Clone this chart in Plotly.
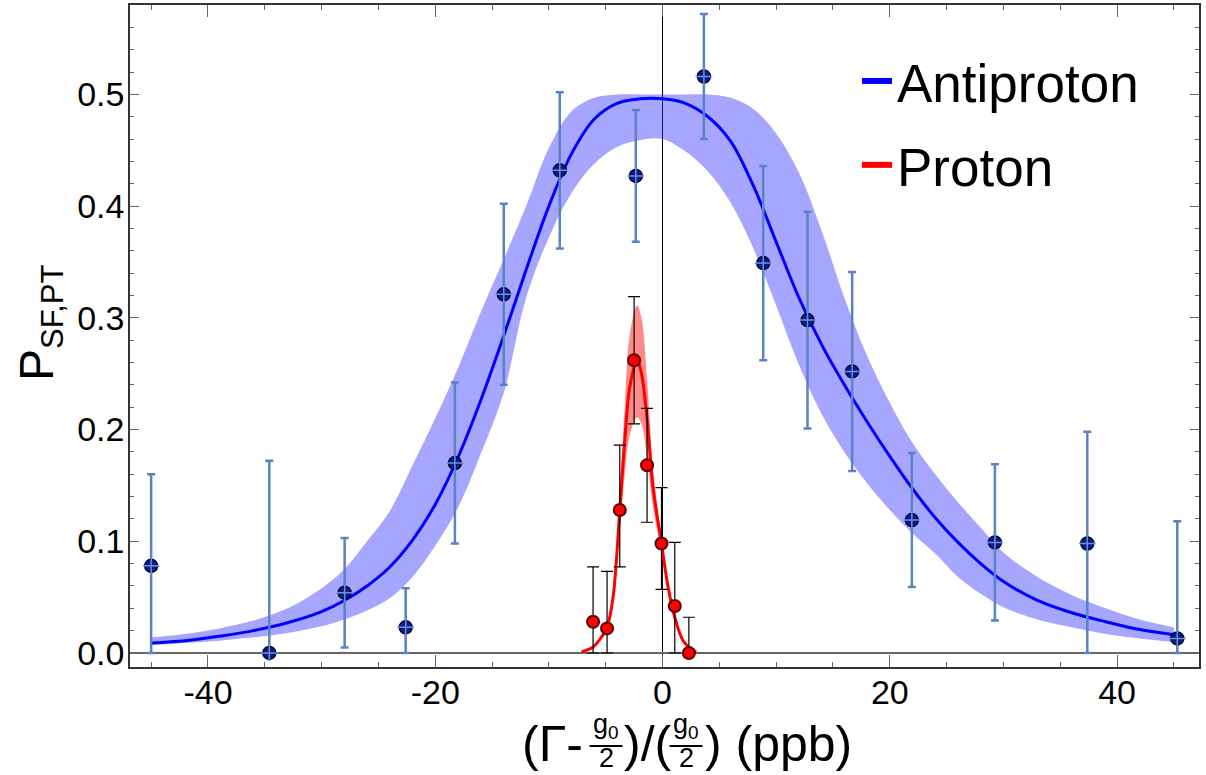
import plotly.graph_objects as go

# ---------------- data ----------------
# Antiproton measurements
ap_x = [-45.0, -34.6, -27.97, -22.6, -18.27, -13.97, -9.04, -2.35, 3.64, 8.86, 12.76, 16.69, 21.94, 29.25, 37.38, 45.3]
ap_y = [0.078, 0.0, 0.054, 0.023, 0.170, 0.321, 0.432, 0.427, 0.516, 0.349, 0.298, 0.252, 0.119, 0.099, 0.098, 0.013]
ap_err_plus = [0.082, 0.172, 0.049, 0.035, 0.072, 0.081, 0.070, 0.059, 0.056, 0.087, 0.097, 0.089, 0.060, 0.070, 0.100, 0.105]
ap_err_minus = [0.078, 0.0, 0.049, 0.023, 0.072, 0.081, 0.070, 0.059, 0.056, 0.087, 0.097, 0.089, 0.060, 0.070, 0.098, 0.013]

# Antiproton fit line
ap_fit_x = [-45, -42, -39, -36, -33, -30, -28, -26, -24, -22, -20, -18, -16, -14, -12, -10, -8, -6, -4, -2, 0,
            2, 4, 6, 8, 10, 12, 14, 16, 18, 20, 22, 24, 26, 28, 30, 33, 36, 39, 42, 45.3]
ap_fit_y = [0.009, 0.011, 0.015, 0.020, 0.027, 0.037, 0.047, 0.060, 0.077, 0.101, 0.133, 0.175, 0.226, 0.283, 0.343,
            0.400, 0.447, 0.478, 0.492, 0.496, 0.496,
            0.492, 0.480, 0.458, 0.418, 0.368, 0.318, 0.276, 0.240, 0.207, 0.176, 0.147, 0.121, 0.099, 0.080, 0.064,
            0.047, 0.036, 0.028, 0.021, 0.016]

# Antiproton confidence band (upper / lower edge)
ap_band_x = [-45, -42, -39, -36, -33, -30, -28, -26, -24, -22, -20, -18, -16, -14, -12, -10, -8, -6, -4, -2, 0,
             2, 4, 6, 8, 10, 12, 14, 16, 18, 20, 22, 24, 26, 28, 30, 33, 36, 39, 42, 45]
ap_band_hi = [0.014, 0.017, 0.022, 0.029, 0.040, 0.058, 0.075, 0.100, 0.127, 0.168, 0.210, 0.255, 0.305, 0.352, 0.400,
              0.452, 0.485, 0.497, 0.500, 0.500, 0.500,
              0.500, 0.500, 0.497, 0.487, 0.465, 0.430, 0.378, 0.318, 0.266, 0.224, 0.188, 0.160, 0.135, 0.112, 0.090,
              0.068, 0.052, 0.040, 0.030, 0.023]
ap_band_lo = [0.007, 0.009, 0.011, 0.014, 0.018, 0.024, 0.030, 0.038, 0.049, 0.068, 0.096, 0.130, 0.178, 0.232, 0.318,
              0.372, 0.412, 0.438, 0.453, 0.459, 0.460,
              0.449, 0.431, 0.403, 0.362, 0.311, 0.258, 0.214, 0.180, 0.152, 0.128, 0.107, 0.089, 0.068, 0.053, 0.041,
              0.030, 0.023, 0.017, 0.013, 0.0098]

# Proton measurements
p_x = [-6.11, -4.88, -3.76, -2.5, -1.36, -0.09, 1.08, 2.32]
p_y = [0.028, 0.022, 0.128, 0.262, 0.168, 0.098, 0.042, 0.0]
p_err_plus = [0.049, 0.051, 0.058, 0.057, 0.051, 0.050, 0.057, 0.032]
p_err_minus = [0.028, 0.022, 0.051, 0.057, 0.051, 0.041, 0.042, 0.0]

# Proton fit line and band
p_fit_x = [-7.13, -6.11, -5.37, -4.88, -4.35, -3.76, -3.32, -2.88, -2.24, -1.85, -1.36, -0.83, -0.09, 0.49, 1.08, 1.81, 2.69, 2.98]
p_fit_y = [0.001, 0.0054, 0.0143, 0.023, 0.050, 0.128, 0.190, 0.238, 0.262, 0.250, 0.210, 0.148, 0.098, 0.059, 0.032, 0.011, 0.0024, 0.001]
p_band_hi = [0.001, 0.006, 0.016, 0.026, 0.058, 0.145, 0.222, 0.285, 0.311, 0.300, 0.245, 0.165, 0.104, 0.062, 0.034, 0.012, 0.003, 0.001]
p_band_lo = [0.001, 0.005, 0.012, 0.020, 0.043, 0.110, 0.160, 0.195, 0.211, 0.205, 0.175, 0.130, 0.090, 0.056, 0.030, 0.010, 0.002, 0.001]

x_tick_vals = [-40, -20, 0, 20, 40]
x_tick_text = ["-40", "-20", "0", "20", "40"]
y_tick_vals = [0.0, 0.1, 0.2, 0.3, 0.4, 0.5]
y_tick_text = ["0.0", "0.1", "0.2", "0.3", "0.4", "0.5"]

# ---------------- figure ----------------
FONT = "Liberation Sans, Arial, Helvetica, sans-serif"
W, H = 1206, 775
ML, MR, MT, MB = 130, 7, 5, 108
PW, PH = W - ML - MR, H - MT - MB

fig = go.Figure()

# blue band
fig.add_trace(go.Scatter(x=ap_band_x, y=ap_band_hi, mode="lines", line=dict(width=0, shape="spline"),
                         showlegend=False, hoverinfo="skip"))
fig.add_trace(go.Scatter(x=ap_band_x, y=ap_band_lo, mode="lines", line=dict(width=0, shape="spline"),
                         fill="tonexty", fillcolor="rgba(60,60,255,0.46)", showlegend=False, hoverinfo="skip"))
# blue fit
fig.add_trace(go.Scatter(x=ap_fit_x, y=ap_fit_y, mode="lines", line=dict(color="#0000ff", width=3, shape="spline"),
                         showlegend=False))
# red band
fig.add_trace(go.Scatter(x=p_fit_x, y=p_band_hi, mode="lines", line=dict(width=0, shape="spline"),
                         showlegend=False, hoverinfo="skip"))
fig.add_trace(go.Scatter(x=p_fit_x, y=p_band_lo, mode="lines", line=dict(width=0, shape="spline"),
                         fill="tonexty", fillcolor="rgba(255,30,30,0.52)", showlegend=False, hoverinfo="skip"))
# red fit
fig.add_trace(go.Scatter(x=p_fit_x, y=p_fit_y, mode="lines", line=dict(color="#ff0000", width=3, shape="spline"),
                         showlegend=False))

# antiproton points
fig.add_trace(go.Scatter(
    x=ap_x, y=ap_y, mode="markers",
    marker=dict(size=13, color="#0b1a8c", line=dict(color="#020a40", width=1.5)),
    error_y=dict(type="data", symmetric=False, array=ap_err_plus, arrayminus=ap_err_minus,
                 color="#5a82c4", thickness=2.5, width=4),
    showlegend=False))
fig.add_trace(go.Scatter(
    x=ap_x, y=ap_y, mode="markers",
    marker=dict(size=12, symbol="cross-thin", line=dict(color="#6f93d0", width=1.5)),
    showlegend=False, hoverinfo="skip"))

# proton points
fig.add_trace(go.Scatter(
    x=p_x, y=p_y, mode="markers",
    marker=dict(size=12, color="#ff0000", line=dict(color="#5a0000", width=2)),
    error_y=dict(type="data", symmetric=False, array=p_err_plus, arrayminus=p_err_minus,
                 color="#000000", thickness=1.2, width=6),
    showlegend=False))

# legend entries
fig.add_trace(go.Scatter(x=[None], y=[None], mode="lines", line=dict(color="#0000ff", width=6),
                         name="Antiproton", legendgroup="a"))
fig.add_trace(go.Scatter(x=[None], y=[None], mode="lines", line=dict(color="#ff0000", width=6),
                         name="Proton", legendgroup="p"))

axis_common = dict(
    showline=True, linecolor="#333333", linewidth=1.5, mirror="ticks",
    ticks="inside", tickcolor="#666666", tickwidth=1, automargin=False,
    showgrid=False, tickfont=dict(family=FONT, size=34, color="#000000"),
)
fig.update_xaxes(
    **axis_common, range=[-46.86, 47.21], tickvals=x_tick_vals, ticktext=x_tick_text, ticklen=12,
    minor=dict(dtick=5, tick0=0, ticklen=5, ticks="inside", tickcolor="#666666", showgrid=False),
    zeroline=True, zerolinecolor="#000000", zerolinewidth=1, ticklabelstandoff=-6,
)
fig.update_yaxes(
    **axis_common, range=[-0.01254, 0.580], tickvals=y_tick_vals, ticktext=y_tick_text, ticklen=9,
    minor=dict(dtick=0.02, tick0=0, ticklen=4, ticks="inside", tickcolor="#666666", showgrid=False),
    zeroline=True, zerolinecolor="#666666", zerolinewidth=2, ticklabelstandoff=-3,
)

def px_x(p):
    return (p - ML) / PW

def px_y(p):
    return (H - MB - p) / PH

ann = []
# y-axis title
ann.append(dict(text="P<sub><span style='font-size:31px'>SF,PT</span></sub>", x=px_x(40), y=px_y(323),
                xanchor="center", yanchor="middle", textangle=-90,
                font=dict(family=FONT, size=48, color="#000000")))

# x-axis title built from text pieces (with stacked fractions)
big = dict(family=FONT, size=50, color="#000000")
small = dict(family=FONT, size=27, color="#000000")
ybig = px_y(744)
ann.append(dict(text="(Γ-", x=px_x(585), y=ybig, xanchor="right", yanchor="middle", font=big))
ann.append(dict(text=")/(", x=px_x(622), y=ybig, xanchor="left", yanchor="middle", font=big))
ann.append(dict(text=") (ppb)", x=px_x(703), y=ybig, xanchor="left", yanchor="middle", font=big))
shapes = []
LINE_Y = 746
for cx in (606, 686):
    ann.append(dict(text="g<sub>0</sub>", x=px_x(cx), y=px_y(LINE_Y - 1), xanchor="center", yanchor="bottom", font=small))
    ann.append(dict(text="2", x=px_x(cx), y=px_y(H), xanchor="center", yanchor="bottom", font=small))
    shapes.append(dict(type="line", xref="paper", yref="paper", x0=px_x(cx - 16.5), x1=px_x(cx + 16.5),
                       y0=px_y(LINE_Y), y1=px_y(LINE_Y), line=dict(color="#000000", width=2)))
for a in ann:
    a.update(xref="paper", yref="paper", showarrow=False)

fig.update_layout(
    width=W, height=H, margin=dict(l=ML, r=MR, t=MT, b=MB),
    plot_bgcolor="#ffffff", paper_bgcolor="#ffffff",
    font=dict(family=FONT, color="#000000"),
    annotations=ann, shapes=shapes,
    legend=dict(x=px_x(857), y=px_y(40), xanchor="left", yanchor="top",
                font=dict(family=FONT, size=53, color="#000000"),
                bgcolor="rgba(0,0,0,0)", tracegroupgap=12, traceorder="grouped"),
)

fig.write_html("out.html", config={"displayModeBar": False},
               post_script="document.body.style.margin='0px';")
